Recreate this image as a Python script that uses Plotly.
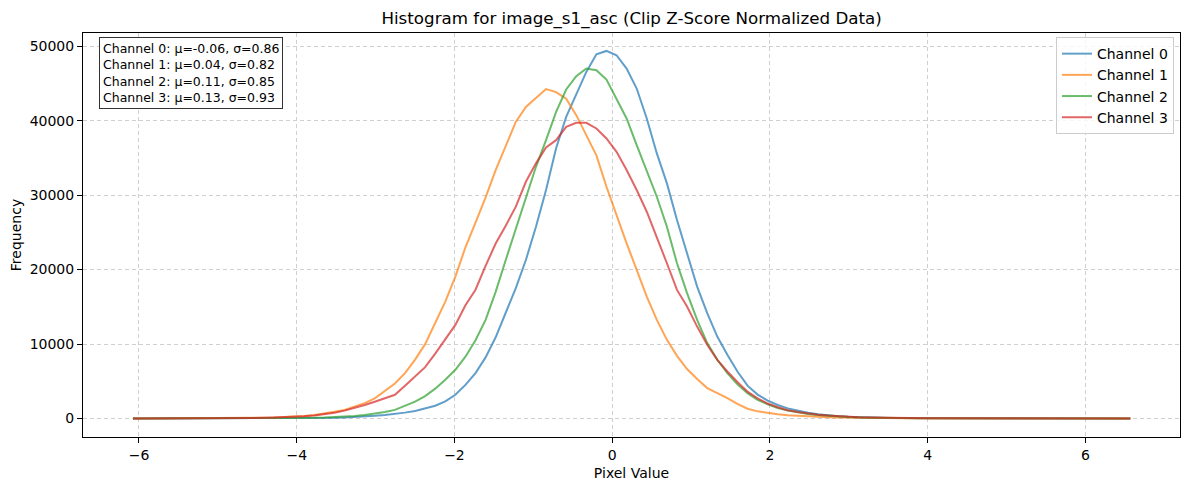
import numpy as np
import plotly.graph_objects as go

# bin centers (100 bins)
x_start, x_end, n_bins = -6.076, 6.57, 100

channel_names = ["Channel 0", "Channel 1", "Channel 2", "Channel 3"]

ch0 = [0, 0, 0, 0, 0, 0, 0, 0, 1, 1,
       3, 4, 6, 8, 12, 18, 26, 36, 50, 70,
       100, 140, 190, 260, 350, 460, 600, 780, 1000, 1300,
       1700, 2300, 3180, 4500, 6100, 8200, 10900, 14200, 17500, 21290,
       25760, 30690, 36300, 40520, 43660, 46560, 48930, 49380, 48800, 47010,
       44330, 40310, 35610, 31580, 26660, 22190, 17710, 14140, 11000, 8550,
       6300, 4400, 3200, 2400, 1800, 1350, 1000, 750, 550, 400,
       300, 220, 160, 115, 85, 60, 44, 32, 23, 17,
       12, 9, 6, 4, 3, 2, 2, 1, 0, 0,
       0, 0, 0, 0, 0, 0, 0, 0, 0, 0]

ch1 = [0, 0, 0, 1, 2, 4, 6, 9, 14, 20,
       30, 42, 60, 85, 120, 170, 240, 340, 470, 650,
       900, 1150, 1550, 2050, 2700, 3680, 4700, 6090, 7900, 9980,
       12800, 15700, 19050, 23000, 26300, 29700, 33370, 36600, 39850, 41860,
       43100, 44250, 43850, 42950, 40750, 38100, 35350, 31130, 27290, 23530,
       19950, 16370, 13240, 10560, 8410, 6630, 5290, 4080, 3410, 2740,
       1950, 1300, 950, 720, 560, 440, 350, 280, 220, 170,
       130, 100, 75, 55, 40, 30, 22, 16, 12, 8,
       6, 4, 3, 2, 1, 0, 0, 0, 0, 0,
       0, 0, 0, 0, 0, 0, 0, 0, 0, 0]

ch2 = [0, 0, 0, 0, 0, 0, 0, 0, 1, 2,
       4, 6, 9, 14, 20, 30, 43, 62, 88, 125,
       175, 240, 330, 450, 620, 850, 1150, 1650, 2250, 3000,
       4000, 5190, 6530, 8300, 10500, 13240, 17000, 21290, 25550, 29790,
       33810, 37400, 41190, 44200, 45980, 47010, 46790, 45540, 43000, 40310,
       36720, 33370, 29790, 25760, 20850, 16830, 13240, 10120, 7880, 6090,
       4600, 3400, 2500, 1900, 1400, 1050, 800, 600, 450, 330,
       250, 185, 135, 100, 72, 52, 38, 27, 19, 13,
       9, 6, 4, 3, 2, 1, 0, 0, 0, 0,
       0, 0, 0, 0, 0, 0, 0, 0, 0, 0]

ch3 = [0, 0, 0, 0, 0, 1, 2, 4, 7, 12,
       20, 32, 50, 75, 110, 150, 210, 290, 400, 540,
       750, 1050, 1400, 1800, 2250, 2700, 3180, 4400, 5650, 6890,
       8700, 10560, 12570, 15200, 17300, 20500, 23500, 25900, 28450, 31800,
       34270, 36410, 37390, 39180, 39720, 39720, 38960, 37620, 35820, 33370,
       30690, 27770, 24420, 20850, 17270, 15030, 12340, 9890, 7880, 6310,
       4900, 3600, 2700, 2000, 1500, 1100, 850, 650, 500, 380,
       290, 220, 165, 125, 95, 70, 52, 38, 28, 20,
       15, 11, 8, 6, 4, 3, 2, 1, 0, 0,
       0, 0, 0, 0, 0, 0, 0, 0, 0, 0]

stats_lines = [
    "Channel 0: μ=-0.06, σ=0.86",
    "Channel 1: μ=0.04, σ=0.82",
    "Channel 2: μ=0.11, σ=0.85",
    "Channel 3: μ=0.13, σ=0.93",
]

x_ticks = [-6, -4, -2, 0, 2, 4, 6]
x_tick_text = ["−6", "−4", "−2", "0", "2", "4", "6"]
y_ticks = [0, 10000, 20000, 30000, 40000, 50000]
y_tick_text = ["0", "10000", "20000", "30000", "40000", "50000"]

colors = ["#1f77b4", "#ff7f0e", "#2ca02c", "#d62728"]

x = np.linspace(x_start, x_end, n_bins)

fig = go.Figure()
for name, ys, c in zip(channel_names, [ch0, ch1, ch2, ch3], colors):
    fig.add_trace(go.Scatter(x=x, y=ys, mode="lines", name=name,
                             line=dict(color=c, width=2), opacity=0.7))

axis_common = dict(
    showline=True, linecolor="black", linewidth=1, mirror=True,
    ticks="outside", ticklen=5, tickcolor="black", tickwidth=1,
    showgrid=True, gridcolor="#d0d0d0", griddash="4px,3px", gridwidth=0.8,
    zeroline=False, tickfont=dict(family="DejaVu Sans", size=14, color="black"),
)

fig.update_layout(
    width=1189, height=490,
    margin=dict(l=83, r=9, t=33, b=53),
    paper_bgcolor="white", plot_bgcolor="white",
    font=dict(family="DejaVu Sans", color="black"),
    title=dict(text="Histogram for image_s1_asc (Clip Z-Score Normalized Data)",
               x=0.5312, xanchor="center", y=0.963, yanchor="middle",
               font=dict(size=16.7, family="DejaVu Sans", color="black")),
    xaxis=dict(range=[-6.71, 7.20], tickvals=x_ticks, ticktext=x_tick_text,
               title=dict(text="Pixel Value", font=dict(size=14), standoff=6),
               **axis_common),
    yaxis=dict(range=[-2496, 51790], tickvals=y_ticks, ticktext=y_tick_text,
               title=dict(text="Frequency", font=dict(size=14), standoff=4),
               **axis_common),
    legend=dict(x=0.9945, y=0.99, xanchor="right", yanchor="top",
                bgcolor="rgba(255,255,255,0.8)", bordercolor="#cccccc", borderwidth=1,
                font=dict(size=14, family="DejaVu Sans", color="black"),
                tracegroupgap=0, itemwidth=30),
    showlegend=True,
)

fig.add_annotation(
    xref="paper", yref="paper", x=0.0146, y=0.989, xanchor="left", yanchor="top",
    text="<br>".join(stats_lines), showarrow=False, align="left",
    font=dict(size=12.5, family="DejaVu Sans", color="black"),
    bgcolor="white", bordercolor="#333333", borderwidth=1, borderpad=3,
)

fig.write_html("out.html")
